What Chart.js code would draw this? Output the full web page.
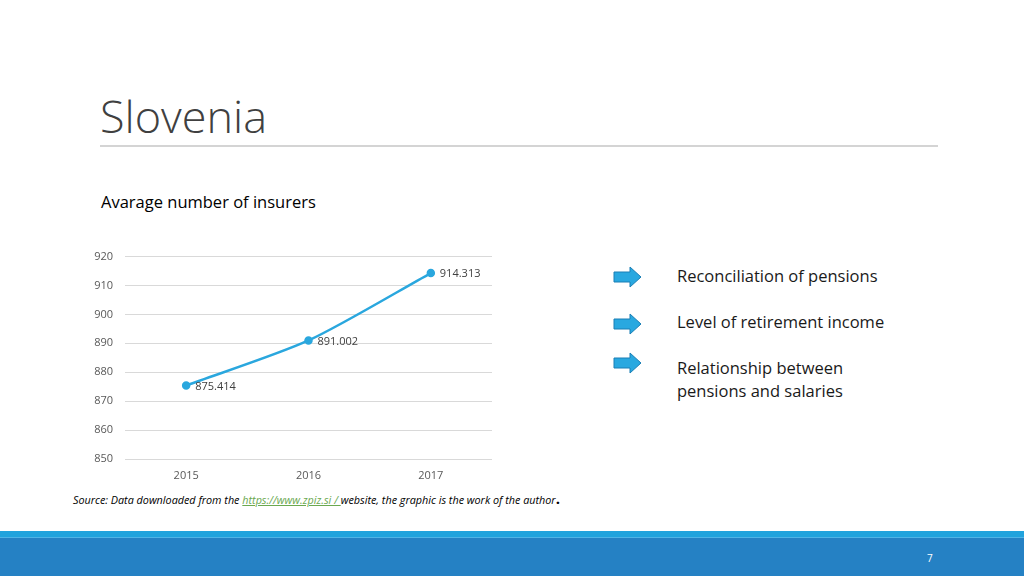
<!DOCTYPE html>
<html>
<head>
<meta charset="utf-8">
<script src="https://cdn.jsdelivr.net/npm/chart.js@4/dist/chart.umd.min.js"></script>
<style>
  html,body{margin:0;padding:0;width:1024px;height:576px;overflow:hidden;background:#fff;font-family:"Open Sans","Liberation Sans",sans-serif;}
  #title{position:absolute;left:100px;top:86px;font-family:"Open Sans";font-weight:300;font-size:45px;color:#404040;letter-spacing:0px;line-height:60px;}
  #rule{position:absolute;left:100px;top:145px;width:838px;height:2px;background:#d4d4d4;}
  #sub{position:absolute;left:101px;top:191px;font-size:16.5px;color:#000;line-height:22px;}
  #wrap{position:absolute;left:60px;top:238px;width:440px;height:242px;}
  .item{position:absolute;left:677px;font-size:16.5px;color:#1a1a1a;line-height:23px;}
  .arrow{position:absolute;left:613px;width:29px;height:22px;}
  #src{position:absolute;left:73px;top:488px;font-size:10.8px;font-style:italic;color:#000;white-space:nowrap;}
  #src a{color:#6aa84f;text-decoration:underline;}
  #src b{font-style:normal;font-size:15px;}
  #band1{position:absolute;left:0;top:531px;width:1024px;height:6px;background:#21a3dd;}
  #band2{position:absolute;left:0;top:537px;width:1024px;height:39px;background:#2581c4;border-top:1px solid #4fb4e6;box-sizing:border-box;}
  #pg{position:absolute;left:927px;top:551px;font-size:10px;color:#fff;}
</style>
</head>
<body>
<div id="title">Slovenia</div>
<div id="rule"></div>
<div id="sub">Avarage number of insurers</div>
<div id="wrap"><canvas id="c" width="440" height="242"></canvas></div>

<svg class="arrow" style="top:266px" viewBox="0 0 29 22"><path d="M1 6 H17 V1 L28 11 L17 21 V16 H1 Z" fill="#29a8e0" stroke="#1b7fb5" stroke-width="1"/></svg>
<div class="item" style="top:264px">Reconciliation of pensions</div>
<svg class="arrow" style="top:313px" viewBox="0 0 29 22"><path d="M1 6 H17 V1 L28 11 L17 21 V16 H1 Z" fill="#29a8e0" stroke="#1b7fb5" stroke-width="1"/></svg>
<div class="item" style="top:310px">Level of retirement income</div>
<svg class="arrow" style="top:352px" viewBox="0 0 29 22"><path d="M1 6 H17 V1 L28 11 L17 21 V16 H1 Z" fill="#29a8e0" stroke="#1b7fb5" stroke-width="1"/></svg>
<div class="item" style="top:356px">Relationship between<br>pensions and salaries</div>

<div id="src">Source: Data downloaded from the <a>https://www.zpiz.si / </a>website, the graphic is the work of the author<b>.</b></div>
<div id="band1"></div>
<div id="band2"></div>
<div id="pg">7</div>

<script>
const categories = ["2015", "2016", "2017"];
const insurers = [875.414, 891.002, 914.313];
const yTicks = [850, 860, 870, 880, 890, 900, 910, 920];

const labelPlugin = {
  id: 'valueLabels',
  afterDatasetsDraw(chart) {
    const ctx = chart.ctx;
    const meta = chart.getDatasetMeta(0);
    ctx.save();
    ctx.font = '11px "Open Sans"';
    ctx.fillStyle = '#404040';
    ctx.textAlign = 'left';
    ctx.textBaseline = 'middle';
    meta.data.forEach((pt, i) => {
      ctx.fillText(insurers[i].toFixed(3), pt.x + 9, pt.y + 1);
    });
    ctx.restore();
  }
};

new Chart(document.getElementById('c'), {
  type: 'line',
  data: {
    labels: categories,
    datasets: [{
      data: insurers,
      borderColor: '#2aa7de',
      backgroundColor: '#2aa7de',
      borderWidth: 2.5,
      pointRadius: 3,
      pointBackgroundColor: '#2aa7de',
      pointBorderColor: '#2aa7de',
      tension: 0.25,
      fill: false
    }]
  },
  options: {
    responsive: false,
    animation: false,
    layout: { padding: { top: 12, right: 8, left: 0, bottom: 0 } },
    plugins: { legend: { display: false }, tooltip: { enabled: false } },
    scales: {
      x: {
        offset: true,
        grid: { display: false, drawTicks: false },
        border: { display: false },
        ticks: { color: '#595959', font: { size: 11, family: 'Open Sans' }, padding: 10 },
        afterFit(s) { s.height = 21; }
      },
      y: {
        min: 850, max: 920,
        afterBuildTicks(s) { s.ticks = yTicks.map(v => ({ value: v })); },
        grid: { color: '#d9d9d9', drawTicks: false, lineWidth: 1 },
        border: { display: false },
        ticks: { color: '#595959', font: { size: 11, family: 'Open Sans' }, padding: 12 },
        afterFit(s) { s.width = 65; }
      }
    }
  },
  plugins: [labelPlugin]
});
</script>
</body>
</html>
